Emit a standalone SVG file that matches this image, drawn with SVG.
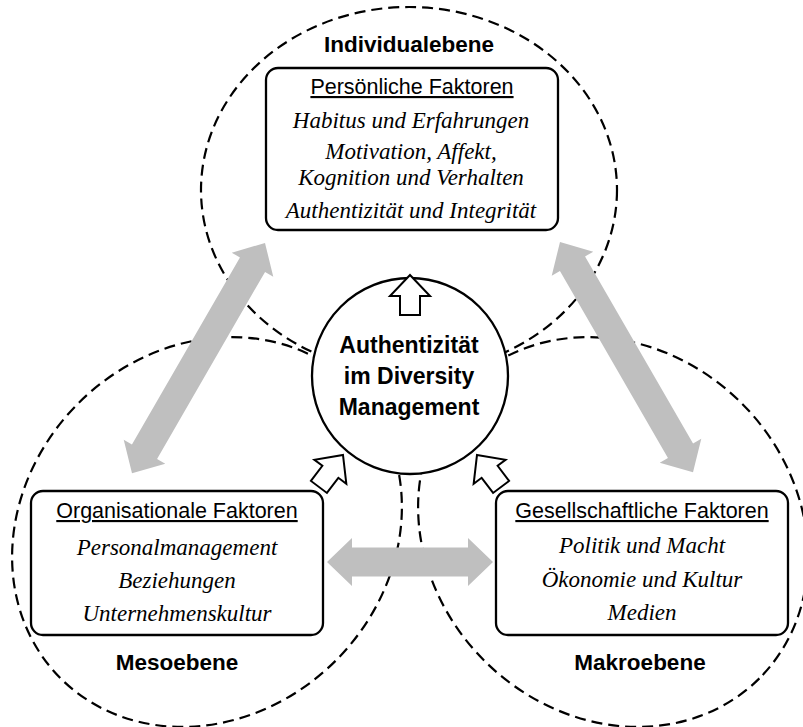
<svg xmlns="http://www.w3.org/2000/svg" width="803" height="727" viewBox="0 0 803 727">
<style>
.lvl{fill:none;stroke:#000;stroke-width:2.2;stroke-dasharray:11 6}
.box{fill:#fff;stroke:#000;stroke-width:2.3}
.gray{fill:#bfbfbf;stroke:none}
.hollow{fill:#fff;stroke:#000;stroke-width:2;stroke-linejoin:miter}
.lab{font-family:"Liberation Sans",Arial,sans-serif;font-weight:bold;font-size:22.5px;text-anchor:middle;fill:#000}
.head{font-family:"Liberation Sans",Arial,sans-serif;font-size:21.5px;text-anchor:middle;text-decoration:underline;fill:#000}
.it{font-family:"Liberation Serif","Times New Roman",serif;font-style:italic;font-size:23px;text-anchor:middle;fill:#000}
</style>
<rect width="803" height="727" fill="#fff"/>
<g id="levels">
<ellipse class="lvl" cx="409" cy="190" rx="208" ry="183"/>
<ellipse class="lvl" cx="0" cy="0" rx="207" ry="182" transform="translate(207,532) rotate(-45)"/>
<ellipse class="lvl" cx="0" cy="0" rx="207" ry="182" transform="translate(613,532) rotate(45)"/>
</g>
<g id="connectors">
<path class="gray" d="M0,0 L25,-24 L25,-14.5 L141,-14.5 L141,-24 L166,0 L141,24 L141,14.5 L25,14.5 L25,24 Z" transform="translate(327,562)"/>
<path class="gray" d="M0,0 L25,-24 L25,-14.5 L241,-14.5 L241,-24 L266,0 L241,24 L241,14.5 L25,14.5 L25,24 Z" transform="translate(560,242) rotate(60)"/>
<path class="gray" d="M0,0 L25,-24 L25,-14.5 L241,-14.5 L241,-24 L266,0 L241,24 L241,14.5 L25,14.5 L25,24 Z" transform="translate(265,243) rotate(120)"/>
</g>
<g id="individual">
<text class="lab" x="409" y="52">Individualebene</text>
<rect class="box" x="266" y="68" width="292" height="162" rx="12"/>
<text class="head" x="412" y="94">Persönliche Faktoren</text>
<text class="it" x="411" y="128">Habitus und Erfahrungen</text>
<text class="it" x="411" y="159">Motivation, Affekt,</text>
<text class="it" x="411" y="185">Kognition und Verhalten</text>
<text class="it" x="411" y="218">Authentizität und Integrität</text>
</g>
<g id="meso">
<rect class="box" x="31" y="491" width="292" height="144" rx="12"/>
<text class="head" x="177" y="518">Organisationale Faktoren</text>
<text class="it" x="177" y="555">Personalmanagement</text>
<text class="it" x="177" y="588">Beziehungen</text>
<text class="it" x="177" y="621">Unternehmenskultur</text>
<text class="lab" x="177" y="670">Mesoebene</text>
</g>
<g id="makro">
<rect class="box" x="496" y="491" width="292" height="144" rx="12"/>
<text class="head" x="642" y="518">Gesellschaftliche Faktoren</text>
<text class="it" x="642" y="553">Politik und Macht</text>
<text class="it" x="642" y="587">Ökonomie und Kultur</text>
<text class="it" x="642" y="620">Medien</text>
<text class="lab" x="640" y="670">Makroebene</text>
</g>
<g id="center">
<circle class="box" cx="410" cy="376" r="98"/>
<text class="lab" x="409" y="353" style="font-size:23px">Authentizität</text>
<text class="lab" x="409" y="384" style="font-size:23px">im Diversity</text>
<text class="lab" x="409" y="415" style="font-size:23px">Management</text>
</g>
<g id="influence-arrows">
<path class="hollow" d="M0,0 L20,21 L10,21 L10,40 L-10,40 L-10,21 L-20,21 Z" transform="translate(410,275)"/>
<path class="hollow" d="M0,0 L20,21 L10,21 L10,40 L-10,40 L-10,21 L-20,21 Z" transform="translate(343,455) rotate(37)"/>
<path class="hollow" d="M0,0 L20,21 L10,21 L10,40 L-10,40 L-10,21 L-20,21 Z" transform="translate(477,455) rotate(-37)"/>
</g>
</svg>
